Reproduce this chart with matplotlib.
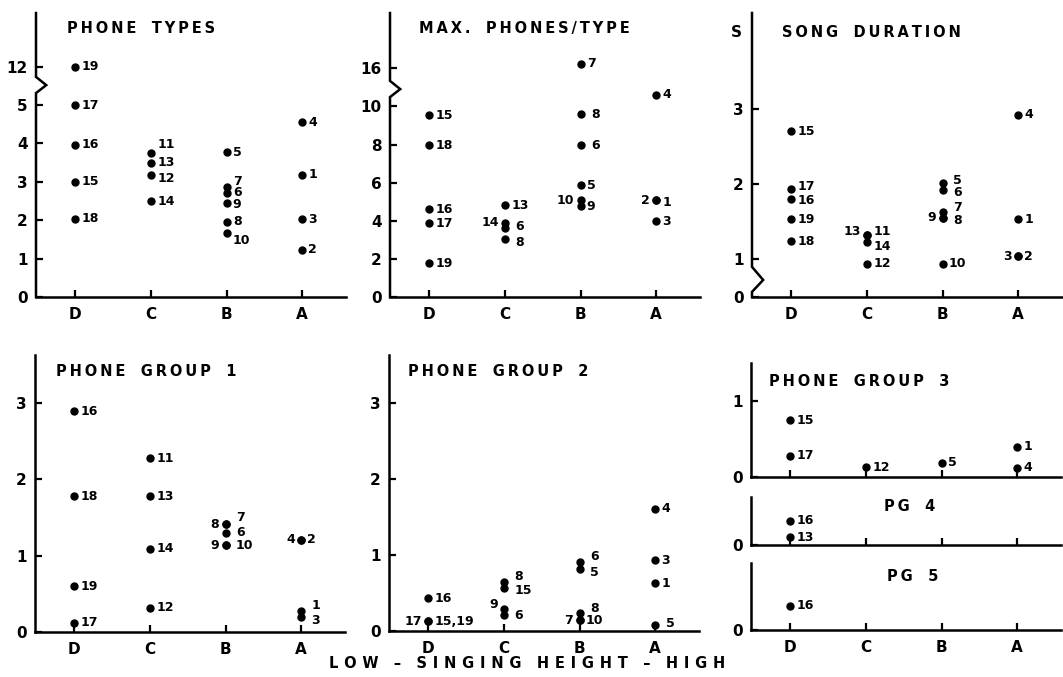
import numpy as np
import matplotlib
matplotlib.use("Agg")
import matplotlib.pyplot as plt

plt.rcParams['font.family'] = ['DejaVu Sans']
plt.rcParams['font.weight'] = 'bold'

categories = ["D", "C", "B", "A"]

# phone types (19 sits above the axis break)
types_cat = ["D", "D", "D", "D", "D", "C", "C", "C", "C", "B", "B", "B", "B", "B", "B", "A", "A", "A", "A"]
types_val = [12, 5.0, 3.97, 3.0, 2.04, 3.76, 3.5, 3.19, 2.5, 3.77, 2.87, 2.72, 2.45, 1.96, 1.66, 4.55, 3.19, 2.02, 1.23]
types_lab = ["19", "17", "16", "15", "18", "11", "13", "12", "14", "5", "7", "6", "9", "8", "10", "4", "1", "3", "2"]

# max phones / type
maxph_cat = ["D", "D", "D", "D", "D", "C", "C", "C", "C", "B", "B", "B", "B", "B", "B", "A", "A", "A", "A"]
maxph_val = [9.53, 7.97, 4.6, 3.87, 1.78, 4.82, 3.89, 3.63, 3.02, 16.25, 9.58, 7.97, 5.86, 5.08, 4.76, 10.6, 5.08, 5.08, 3.98]
maxph_lab = ["15", "18", "16", "17", "19", "13", "14", "6", "8", "7", "8", "6", "5", "10", "9", "4", "2", "1", "3"]

# song duration, s
dur_cat = ["D", "D", "D", "D", "D", "C", "C", "C", "C", "B", "B", "B", "B", "B", "B", "A", "A", "A", "A"]
dur_val = [2.70, 1.93, 1.80, 1.53, 1.24, 1.32, 1.32, 1.23, 0.94, 2.01, 1.92, 1.63, 1.55, 1.55, 0.94, 2.92, 1.53, 1.04, 1.04]
dur_lab = ["15", "17", "16", "19", "18", "13", "11", "14", "12", "5", "6", "7", "8", "9", "10", "4", "1", "3", "2"]

# phone group 1
pg1_cat = ["D", "D", "D", "D", "C", "C", "C", "C", "B", "B", "B", "B", "B", "A", "A", "A", "A"]
pg1_val = [2.89, 1.78, 0.60, 0.12, 2.28, 1.78, 1.09, 0.32, 1.41, 1.41, 1.30, 1.14, 1.14, 1.21, 1.21, 0.27, 0.20]
pg1_lab = ["16", "18", "19", "17", "11", "13", "14", "12", "8", "7", "6", "9", "10", "4", "2", "1", "3"]

# phone group 2
pg2_cat = ["D", "D", "D", "C", "C", "C", "C", "B", "B", "B", "B", "B", "A", "A", "A", "A"]
pg2_val = [0.43, 0.13, 0.13, 0.65, 0.57, 0.29, 0.21, 0.91, 0.81, 0.24, 0.14, 0.14, 1.61, 0.93, 0.63, 0.08]
pg2_lab = ["16", "17", "15,19", "8", "15", "9", "6", "6", "5", "8", "7", "10", "4", "3", "1", "5"]

# phone groups 3, 4, 5
pg3_cat = ["D", "D", "C", "B", "A", "A"]
pg3_val = [0.75, 0.28, 0.13, 0.19, 0.40, 0.12]
pg3_lab = ["15", "17", "12", "5", "1", "4"]

pg4_cat = ["D", "D"]
pg4_val = [0.32, 0.10]
pg4_lab = ["16", "13"]

pg5_cat = ["D"]
pg5_val = [0.32]
pg5_lab = ["16"]


W, H = 1063, 677
fig = plt.figure(figsize=(W / 100, H / 100), dpi=100)
fig.patch.set_facecolor("white")

AX_W = 310


def spaced(s, gap="\u2009"):
    # wide lettering like the original stencil
    return "   ".join(gap.join(w) for w in s.split(" "))


def make_ax(x0, top, bot):
    ax = fig.add_axes([x0 / W, 1 - bot / H, AX_W / W, (bot - top) / H])
    ax.set_facecolor("none")
    for s in ["top", "right", "left"]:
        ax.spines[s].set_visible(False)
    ax.spines["bottom"].set_linewidth(1.8)
    ax.set_xlim(-0.52, 3.58)
    ax.set_xticks(range(4))
    ax.tick_params(direction="in", length=5, width=1.6, labelsize=11, pad=6)
    ax.tick_params(axis="x", pad=7)
    ax.minorticks_off()
    return ax


def left_axis(ax, brk=None, bw=0.033):
    if brk is None:
        xs, ys = [0, 0], [0, 1]
    else:
        y1, ym, y2 = brk
        xs, ys = [0, 0, bw, 0, 0], [0, y1, ym, y2, 1]
    ax.plot(xs, ys, color="black", lw=1.8, transform=ax.transAxes, clip_on=False,
            solid_joinstyle="miter")


def knot_scale(ax, real, disp):
    fwd = lambda v: np.interp(v, real, disp)
    inv = lambda d: np.interp(d, disp, real)
    ax.set_yscale("function", functions=(fwd, inv))


def draw_points(ax, cats, vals, labs, left=(), nudge=None):
    # nudge keys: label, or (label, category) when a label repeats
    nudge = nudge or {}
    xs = [categories.index(c) for c in cats]
    ax.plot(xs, vals, "o", color="black", ms=5, ls="none", clip_on=False)
    for c, x, v, lab in zip(cats, xs, vals, labs):
        dx, dy = nudge.get((lab, c), nudge.get(lab, (0, 0)))
        if lab in left:
            ax.annotate(lab, (x, v), xytext=(-4.5 + dx, dy), textcoords="offset points",
                        ha="right", va="center", fontsize=9, fontweight="bold")
        else:
            ax.annotate(lab, (x, v), xytext=(4.5 + dx, dy), textcoords="offset points",
                        ha="left", va="center", fontsize=9, fontweight="bold")


def title(ax, txt, x, y, ha="left"):
    ax.text(x, y, spaced(txt), transform=ax.transAxes, ha=ha, va="center",
            fontsize=10.5, fontweight="bold")


# --- top row ---
ax1 = make_ax(36, 13, 297)
knot_scale(ax1, [0, 5.4, 11.6, 40], [0, 5.4, 5.6, 34])
ax1.set_ylim(0, 13.4)
ax1.set_yticks([0, 1, 2, 3, 4, 5, 12])
ax1.set_xticklabels(categories)
left_axis(ax1, (0.718, 0.746, 0.775))
draw_points(ax1, types_cat, types_val, types_lab,
            nudge={"11": (0, 6), "12": (0, -3), "7": (0, 4), "6": (0, 0), "9": (0, -1),
                   "10": (0, -5)})
title(ax1, "PHONE TYPES", 0.10, 0.947)

ax2 = make_ax(390, 13, 297)
knot_scale(ax2, [0, 10.8, 15.2, 40], [0, 10.8, 11.2, 36])
ax2.set_ylim(0, 18.9)
ax2.set_yticks([0, 2, 4, 6, 8, 10, 16])
ax2.set_xticklabels(categories)
left_axis(ax2, (0.704, 0.732, 0.761))
draw_points(ax2, maxph_cat, maxph_val, maxph_lab, left=("14", "10", "2"),
            nudge={("6", "C"): (3, 1), ("8", "C"): (3, -2), ("8", "B"): (3, 0),
                   ("6", "B"): (3, 0), "1": (0, -2)})
title(ax2, "MAX. PHONES/TYPE", 0.094, 0.947)

ax3 = make_ax(752, 13, 297)
knot_scale(ax3, [0, 0.1, 0.85, 10], [0, 0.1, 0.35, 9.5])
ax3.set_ylim(0, 4.27)
ax3.set_yticks([0, 1, 2, 3])
ax3.set_xticklabels(categories)
left_axis(ax3, (0.018, 0.060, 0.106), bw=0.036)
draw_points(ax3, dur_cat, dur_val, dur_lab, left=("13", "9", "3"),
            nudge={"17": (0, 2), "16": (0, -1), "13": (0, 3), "11": (0, 3), "14": (0, -3),
                   "5": (3, 2), "6": (3, -2), "7": (3, 3), "8": (3, -2)})
title(ax3, "SONG DURATION", 0.097, 0.93)
ax3.text(-0.052, 0.93, "S", transform=ax3.transAxes, ha="center", va="center",
         fontsize=11, fontweight="bold")

# --- bottom row ---
ax4 = make_ax(35, 355, 632)
ax4.set_ylim(0, 3.63)
ax4.set_yticks([0, 1, 2, 3])
ax4.set_xticklabels(categories)
left_axis(ax4)
draw_points(ax4, pg1_cat, pg1_val, pg1_lab, left=("8", "9", "4"),
            nudge={"7": (3, 5), "1": (3, 4), "3": (3, -3), "10": (3, 0), "6": (3, 0)})
title(ax4, "PHONE GROUP 1", 0.068, 0.94)

ax5 = make_ax(389, 355, 631)
ax5.set_ylim(0, 3.63)
ax5.set_yticks([0, 1, 2, 3])
ax5.set_xticklabels(categories)
left_axis(ax5)
draw_points(ax5, pg2_cat, pg2_val, pg2_lab, left=("17", "9", "7"),
            nudge={("8", "C"): (3, 4), "15": (3, -2), "9": (0, 3), ("6", "C"): (3, 0),
                   ("6", "B"): (3, 4), ("5", "B"): (3, -2), ("8", "B"): (3, 3),
                   ("5", "A"): (3, 1)})
title(ax5, "PHONE GROUP 2", 0.061, 0.94)

ax6 = make_ax(751, 363, 477)
ax6.set_ylim(0, 1.5)
ax6.set_yticks([0, 1])
ax6.set_xticklabels([])
left_axis(ax6)
draw_points(ax6, pg3_cat, pg3_val, pg3_lab)
title(ax6, "PHONE GROUP 3", 0.058, 0.836)

ax7 = make_ax(751, 497, 545)
ax7.set_ylim(0, 0.63)
ax7.set_yticks([0])
ax7.set_xticklabels([])
left_axis(ax7)
draw_points(ax7, pg4_cat, pg4_val, pg4_lab)
title(ax7, "PG 4", 0.513, 0.80, ha="center")

ax8 = make_ax(751, 563, 630)
ax8.set_ylim(0, 0.88)
ax8.set_yticks([0])
ax8.set_xticklabels(categories)
left_axis(ax8)
draw_points(ax8, pg5_cat, pg5_val, pg5_lab)
title(ax8, "PG 5", 0.523, 0.80, ha="center")

fig.text(527 / W, 1 - 663 / H, spaced("LOW \u2013 SINGING HEIGHT \u2013 HIGH", "\u2009\u2009"),
         ha="center", va="center", fontsize=10.5, fontweight="bold")

fig.savefig("out.png", dpi=100, facecolor="white")
